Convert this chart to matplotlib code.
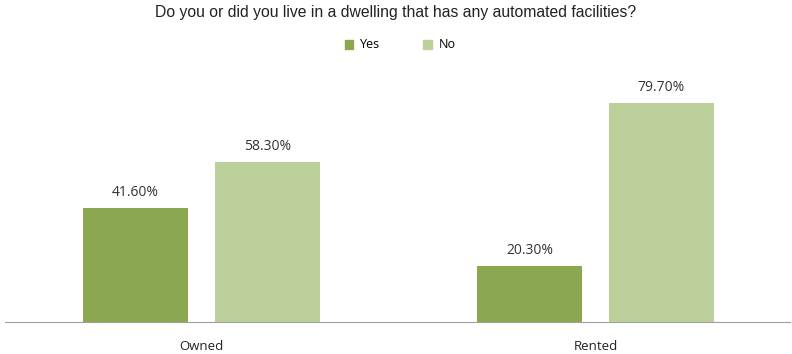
import numpy as np
import matplotlib.pyplot as plt
from matplotlib.patches import Patch

categories = ["Owned", "Rented"]
yes_vals = [41.6, 20.3]
no_vals = [58.3, 79.7]

c_yes = "#8BA74F"
c_no = "#BBD09A"

fig = plt.figure(figsize=(7.92, 3.54), dpi=100)
ax = fig.add_axes([5 / 792, 1 - 322 / 354, 785 / 792, 250 / 354])

x = np.arange(len(categories))
w = 0.2665
off = 0.1675
b1 = ax.bar(x - off, yes_vals, w, color=c_yes)
b2 = ax.bar(x + off, no_vals, w, color=c_no)

for bars, vals in [(b1, yes_vals), (b2, no_vals)]:
    for b, v in zip(bars, vals):
        ax.text(b.get_x() + b.get_width() / 2, v + 2.8, "%.2f%%" % v,
                ha="center", va="bottom", fontsize=10, family="Open Sans", color="#333333")

ax.set_xlim(-0.4987, 1.4937)
ax.set_ylim(0, 90.9)
ax.set_xticks(x)
ax.set_xticklabels(categories, fontsize=9.5, family="Open Sans", color="#222222")
ax.tick_params(axis="x", length=0, pad=13)
ax.set_yticks([])
for s in ["top", "right", "left"]:
    ax.spines[s].set_visible(False)
ax.spines["bottom"].set_color("#A0A0A0")

fig.text(0.5, 1 - 13 / 354, "Do you or did you live in a dwelling that has any automated facilities?",
         ha="center", va="center", fontsize=11.3, family="Liberation Sans", color="#222222")

handles = [Patch(color=c_yes, label="Yes"), Patch(color=c_no, label="No")]
fig.legend(handles=handles, loc="center", bbox_to_anchor=(0.505, 1 - 45 / 354), ncol=2,
           frameon=False, handlelength=0.7, handleheight=0.7, columnspacing=3.5, handletextpad=0.5,
           prop={"family": "Open Sans", "size": 9})

fig.savefig("out.png", dpi=100)
